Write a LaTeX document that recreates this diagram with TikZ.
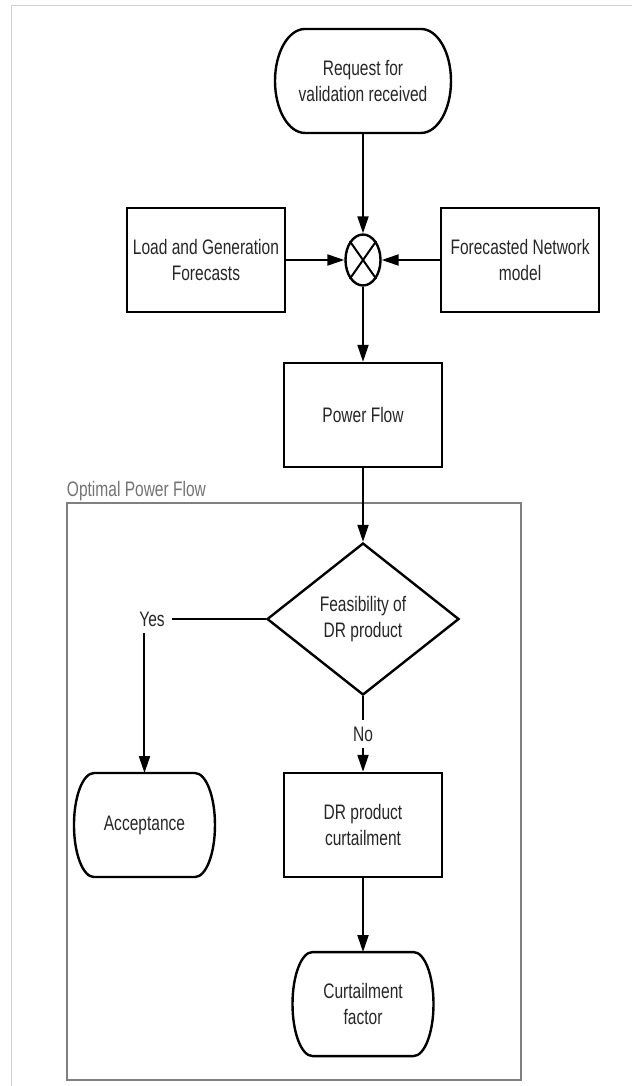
\documentclass[tikz,border=0pt]{standalone}
\usepackage{fontspec}
\setmainfont{Liberation Sans}[FakeStretch=0.74]
\usetikzlibrary{shapes.geometric,arrows.meta}

% outline of a start/end node: straight top and bottom, elliptic sides
\newcommand{\termline}[2]{%
  \draw [line width=1.2pt] ([xshift=#2]#1.north west) -- ([xshift=-#2]#1.north east)
    arc [start angle=90, end angle=-90, x radius=#2, y radius=26pt]
    -- ([xshift=#2]#1.south west)
    arc [start angle=270, end angle=90, x radius=#2, y radius=26pt] -- cycle;}

\begin{document}
\begin{tikzpicture}[font=\fontsize{10.5}{13.3}\selectfont, text=black!85]

% definitions
\tikzstyle{box} = [rectangle, minimum width=79pt, minimum height=52pt, inner xsep=1pt, align=center, draw=black, line width=1.2pt]
\tikzstyle{term} = [rectangle, minimum width=70.5pt, minimum height=52pt, outer sep=0pt, inner xsep=0pt, align=center]
\tikzstyle{decision} = [diamond, minimum width=96pt, minimum height=76pt, inner sep=0pt, align=center, draw=black, line width=1.2pt]
\tikzstyle{junction} = [ellipse, minimum width=17.5pt, minimum height=25.5pt, inner sep=0pt, draw=black, line width=1.2pt]
\tikzstyle{arrow} = [-{Triangle[length=8.5pt,width=5.5pt]}, line width=1pt]
\tikzstyle{line} = [line width=1pt]
\tikzstyle{group} = [draw=black!50, line width=1pt]

% page
\useasboundingbox (-6.379,1.423) rectangle (4.727,-17.661);
\draw [black!18] (-6.186,-17.661) -- (-6.186,1.336) -- (4.727,1.336);

% the graph
\node (req) [term, minimum width=88pt] at (0,0) {Request for\\validation received};
\node (sum) [junction, below of=req, yshift=-2.146cm] {};
\node (load) [box, left of=sum, xshift=-1.76cm] {Load and Generation\\Forecasts};
\node (fnm) [box, right of=sum, xshift=1.76cm] {Forecasted Network\\model};
\node (pf) [box, below of=sum, yshift=-1.724cm] {Power Flow};

% optimal power flow group
\draw [group] (-5.21,-7.416) rectangle (2.777,-17.555);
\node (opf) [anchor=base west, inner sep=0pt, text=black!55] at (-5.21,-7.31) {Optimal Power Flow};

\node (dec) [decision, below of=pf, yshift=-2.585cm] {Feasibility of\\DR product};
\node (yes) [left of=dec, xshift=-2.708cm] {Yes};
\node (dr) [box, below of=dec, yshift=-2.62cm] {DR product\\curtailment};
\node (acc) [term, left of=dr, xshift=-2.84cm] {Acceptance};
\node (cf) [term, below of=dr, yshift=-2.146cm] {Curtailment\\factor};

\termline{req}{15pt}
\termline{acc}{10pt}
\termline{cf}{10pt}

\draw [line width=1pt] (sum.north west) -- (sum.south east);
\draw [line width=1pt] (sum.north east) -- (sum.south west);

\draw [arrow] (req) -- (sum);
\draw [arrow] (load) -- (sum);
\draw [arrow] (fnm) -- (sum);
\draw [arrow] (sum) -- (pf);
\draw [arrow] (pf) -- (dec);

\draw [line] (dec.west) -- (yes.east);
\draw [arrow] (yes.south -| acc.north) -- (acc.north);
\draw [arrow] (dec.south) -- node [fill=white, midway] {No} (dr.north);
\draw [arrow] (dr) -- (cf);

\end{tikzpicture}
\end{document}
